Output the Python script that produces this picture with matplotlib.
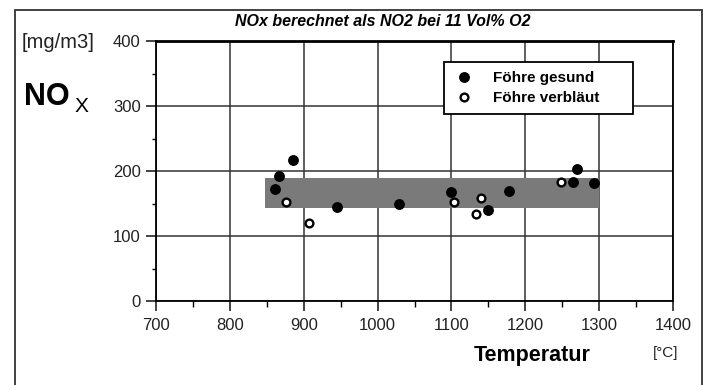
import matplotlib;
matplotlib.use('Agg');
import matplotlib.pyplot as plt;
from matplotlib.patches import Rectangle;
from matplotlib.ticker import MultipleLocator;

# Messwerte NOx [mg/m3] ueber Temperatur [°C]
temp_gesund = [861, 866, 885, 945, 1029, 1099, 1150, 1178, 1265, 1270, 1293];
nox_gesund = [173, 193, 217, 144, 150, 167, 140, 169, 183, 203, 181];

temp_verblaeut = [876, 907, 1104, 1133, 1140, 1249];
nox_verblaeut = [152, 120, 153, 134, 158, 183];

# Streubereich
band_temp = [848, 1300];
band_nox = [143, 189];

x_ticks = [700, 800, 900, 1000, 1100, 1200, 1300, 1400];
y_ticks = [0, 100, 200, 300, 400];

plt.rcParams['font.family'] = ['Liberation Sans', 'DejaVu Sans'];

W, H = 711, 385;
AX_L, AX_R, AX_T, AX_B = 156, 673, 41, 301;
fig = plt.figure(figsize=(W / 100, H / 100), dpi=100);
ax = fig.add_axes([AX_L / W, 1 - AX_B / H, (AX_R - AX_L) / W, (AX_B - AX_T) / H]);

# Rahmen um die ganze Grafik
fig.patches.append(Rectangle((15 / W, -0.05), 687 / W, 1.05 - 10 / H,
                             transform=fig.transFigure, fill=False,
                             edgecolor='#333333', linewidth=1.3));

ax.add_patch(Rectangle((band_temp[0], band_nox[0]), band_temp[1] - band_temp[0],
                       band_nox[1] - band_nox[0], facecolor='#7a7a7a',
                       edgecolor='none', zorder=1));

ax.plot(temp_gesund, nox_gesund, linestyle='none', marker='o', markersize=6.8,
        color='black', label='Föhre gesund', zorder=3);
ax.plot(temp_verblaeut, nox_verblaeut, linestyle='none', marker='o', markersize=5.6,
        markerfacecolor='white', markeredgecolor='black', markeredgewidth=1.7,
        label='Föhre verbläut', zorder=3);

ax.set_xlim(700, 1400);
ax.set_ylim(0, 400);
ax.set_xticks(x_ticks);
ax.set_yticks(y_ticks);
ax.xaxis.set_minor_locator(MultipleLocator(50));
ax.yaxis.set_minor_locator(MultipleLocator(50));
ax.tick_params(axis='x', which='major', direction='out', length=7, width=1.2,
               labelsize=12, pad=5, colors='#222222');
ax.tick_params(axis='x', which='minor', direction='out', length=4, width=1);
ax.tick_params(axis='y', which='major', direction='out', length=7, width=1.2,
               labelsize=12, pad=4, colors='#222222');
ax.tick_params(axis='y', which='minor', direction='out', length=3, width=1);
ax.grid(which='major', color='#333333', linewidth=1.1, zorder=0);
ax.set_axisbelow(True);
for side in ['left', 'bottom', 'right']:
  ax.spines[side].set_linewidth(1.3);
ax.spines['top'].set_linewidth(2);

leg_x0 = (444 - AX_L) / (AX_R - AX_L);
leg_w = (633 - 444) / (AX_R - AX_L);
leg_top = (AX_B - 62) / (AX_B - AX_T);
leg = ax.legend(loc='upper left', bbox_to_anchor=(leg_x0, leg_top - 0.3, leg_w, 0.3),
                mode='expand', fontsize=11, frameon=True, fancybox=False,
                borderpad=0.6, handletextpad=1.2, labelspacing=0.4,
                handlelength=1.4, borderaxespad=0);
leg.get_frame().set_edgecolor('black');
leg.get_frame().set_linewidth(1.3);
leg.get_frame().set_alpha(1);
for t in leg.get_texts():
  t.set_fontweight('bold');

fig.text(383 / W, 1 - 22 / H, 'NOx berechnet als NO2 bei 11 Vol% O2', ha='center',
         va='center', fontsize=11.5, fontweight='bold', style='italic');
fig.text(22 / W, 1 - 43 / H, '[mg/m3]', ha='left', va='center', fontsize=14.5,
         color='#222222');
fig.text(24 / W, 1 - 97 / H, 'NO', ha='left', va='center', fontsize=22,
         fontweight='bold');
fig.text(75 / W, 1 - 106 / H, 'X', ha='left', va='center', fontsize=15);
fig.text(532 / W, 1 - 356 / H, 'Temperatur', ha='center', va='center', fontsize=15.5,
         fontweight='bold');
fig.text(666 / W, 1 - 353 / H, '[°C]', ha='center', va='center', fontsize=11,
         color='#222222');

fig.savefig('out.png', dpi=100);
